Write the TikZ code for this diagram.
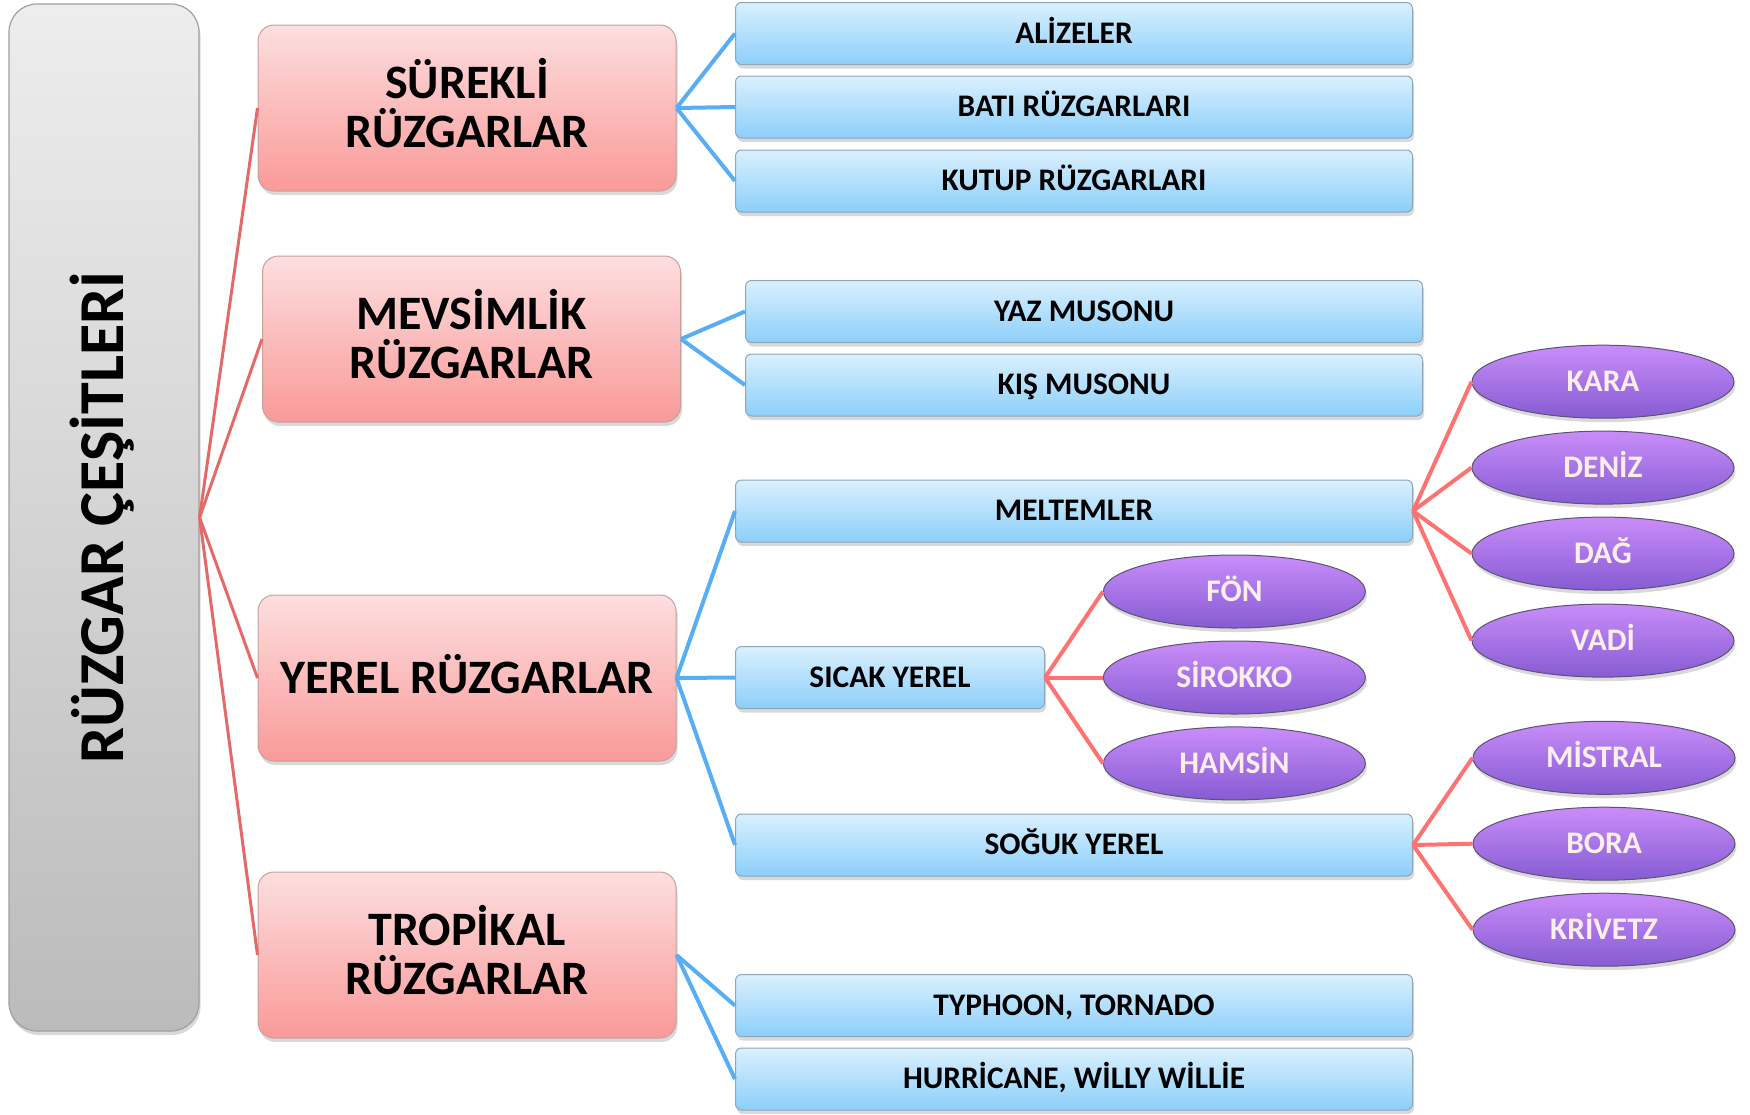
\documentclass[tikz,border=0pt]{standalone}
\usepackage{fontspec}
\setmainfont{Carlito}
\usetikzlibrary{shapes.geometric,shadows}
\definecolor{grayTop}{HTML}{EDEDED}
\definecolor{grayBot}{HTML}{BBBBBB}
\definecolor{grayEdge}{HTML}{A0A0A0}
\definecolor{pinkTop}{HTML}{FDDEDF}
\definecolor{pinkBot}{HTML}{F99A98}
\definecolor{pinkEdge}{HTML}{C8A0A0}
\definecolor{blueTop}{HTML}{DAF0FE}
\definecolor{blueBot}{HTML}{8CCFFA}
\definecolor{blueEdge}{HTML}{8EA6B8}
\definecolor{violTop}{HTML}{C98DF9}
\definecolor{violBot}{HTML}{865BD3}
\definecolor{violEdge}{HTML}{5E5272}
\definecolor{violText}{HTML}{FCEEEA}
\definecolor{lineDark}{HTML}{E46A6A}
\definecolor{lineBlue}{HTML}{58AEF4}
\definecolor{lineRed}{HTML}{FF7272}
\begin{document}
\begin{tikzpicture}[x=1pt,y=-1pt,
  shadowed/.style={drop shadow={shadow xshift=1.5pt,shadow yshift=-4pt,opacity=0.3}},
  graybox/.style={draw=grayEdge, line width=1.2pt, rounded corners=28pt,
    top color=grayTop, bottom color=grayBot,
    minimum width=190pt, minimum height=1027pt, inner sep=0pt, shadowed},
  graytext/.style={rotate=90, inner sep=0pt, text height=40.5pt, text depth=0pt,
    font=\fontsize{64}{64}\selectfont\bfseries},
  pinkbox/.style={draw=pinkEdge, line width=1pt, rounded corners=16pt,
    top color=pinkTop, bottom color=pinkBot,
    minimum width=418pt, minimum height=166pt, align=center, inner sep=0pt,
    text height=78.8pt, text depth=0pt,
    font=\fontsize{48}{48.5}\selectfont\bfseries, shadowed},
  onelinepink/.style={text height=30.4pt},
  bluebox/.style={draw=blueEdge, line width=1pt, rounded corners=6pt,
    top color=blueTop, bottom color=blueBot,
    minimum width=677pt, minimum height=62pt, inner sep=0pt,
    text height=19.8pt, text depth=0pt,
    font=\fontsize{31.4}{31.4}\selectfont\bfseries, shadowed},
  violet/.style={ellipse, draw=violEdge, line width=1pt,
    top color=violTop, bottom color=violBot,
    minimum width=262pt, minimum height=73pt, inner sep=0pt,
    text height=19.8pt, text depth=0pt, text=violText,
    font=\fontsize{31.4}{31.4}\selectfont\bfseries, shadowed},
  darkline/.style={lineDark, line width=3pt},
  blueline/.style={lineBlue, line width=4pt},
  redline/.style={lineRed, line width=4pt}
]
\useasboundingbox (0,0) rectangle (1750,1114);

% root
\node[graybox] (g) at (104,517.5) {};
\node[graytext] (gt) at (103,517.5) {RÜZGAR ÇEŞİTLERİ};

% categories
\node[pinkbox] (p1) at (467,108) {SÜREKLİ\\RÜZGARLAR};
\node[pinkbox] (p2) at (471.5,339) {MEVSİMLİK\\RÜZGARLAR};
\node[pinkbox, onelinepink] (p3) at (467,678) {YEREL RÜZGARLAR};
\node[pinkbox] (p4) at (467,955) {TROPİKAL\\RÜZGARLAR};

% blue boxes
\node[bluebox] (b1) at (1074,33.5) {ALİZELER};
\node[bluebox] (b2) at (1074,107) {BATI RÜZGARLARI};
\node[bluebox] (b3) at (1074,181) {KUTUP RÜZGARLARI};
\node[bluebox] (b4) at (1084,311.5) {YAZ MUSONU};
\node[bluebox] (b5) at (1084,385) {KIŞ MUSONU};
\node[bluebox] (b6) at (1074,511) {MELTEMLER};
\node[bluebox, minimum width=309pt] (b7) at (890,677.5) {SICAK YEREL};
\node[bluebox] (b8) at (1074,845) {SOĞUK YEREL};
\node[bluebox] (b9) at (1074,1005.5) {TYPHOON, TORNADO};
\node[bluebox] (b10) at (1074,1079) {HURRİCANE, WİLLY WİLLİE};

% ellipses
\node[violet] (e1) at (1603,381.7) {KARA};
\node[violet] (e2) at (1603,467.6) {DENİZ};
\node[violet] (e3) at (1603,553.6) {DAĞ};
\node[violet] (e4) at (1603,640.6) {VADİ};
\node[violet] (f1) at (1234.4,591.5) {FÖN};
\node[violet] (f2) at (1234.4,677.5) {SİROKKO};
\node[violet] (f3) at (1234.4,763.4) {HAMSİN};
\node[violet] (s1) at (1604,757.8) {MİSTRAL};
\node[violet] (s2) at (1604,843.7) {BORA};
\node[violet] (s3) at (1604,929.7) {KRİVETZ};

% connectors
\foreach \p in {p1,p2,p3,p4} \draw[darkline] (g.east) -- (\p.west);
\foreach \b in {b1,b2,b3} \draw[blueline] (p1.east) -- (\b.west);
\foreach \b in {b4,b5} \draw[blueline] (p2.east) -- (\b.west);
\foreach \b in {b6,b7,b8} \draw[blueline] (p3.east) -- (\b.west);
\foreach \b in {b9,b10} \draw[blueline] (p4.east) -- (\b.west);
\foreach \e in {e1,e2,e3,e4} \draw[redline] (b6.east) -- (\e.west);
\foreach \e in {f1,f2,f3} \draw[redline] (b7.east) -- (\e.west);
\foreach \e in {s1,s2,s3} \draw[redline] (b8.east) -- (\e.west);
\end{tikzpicture}
\end{document}
